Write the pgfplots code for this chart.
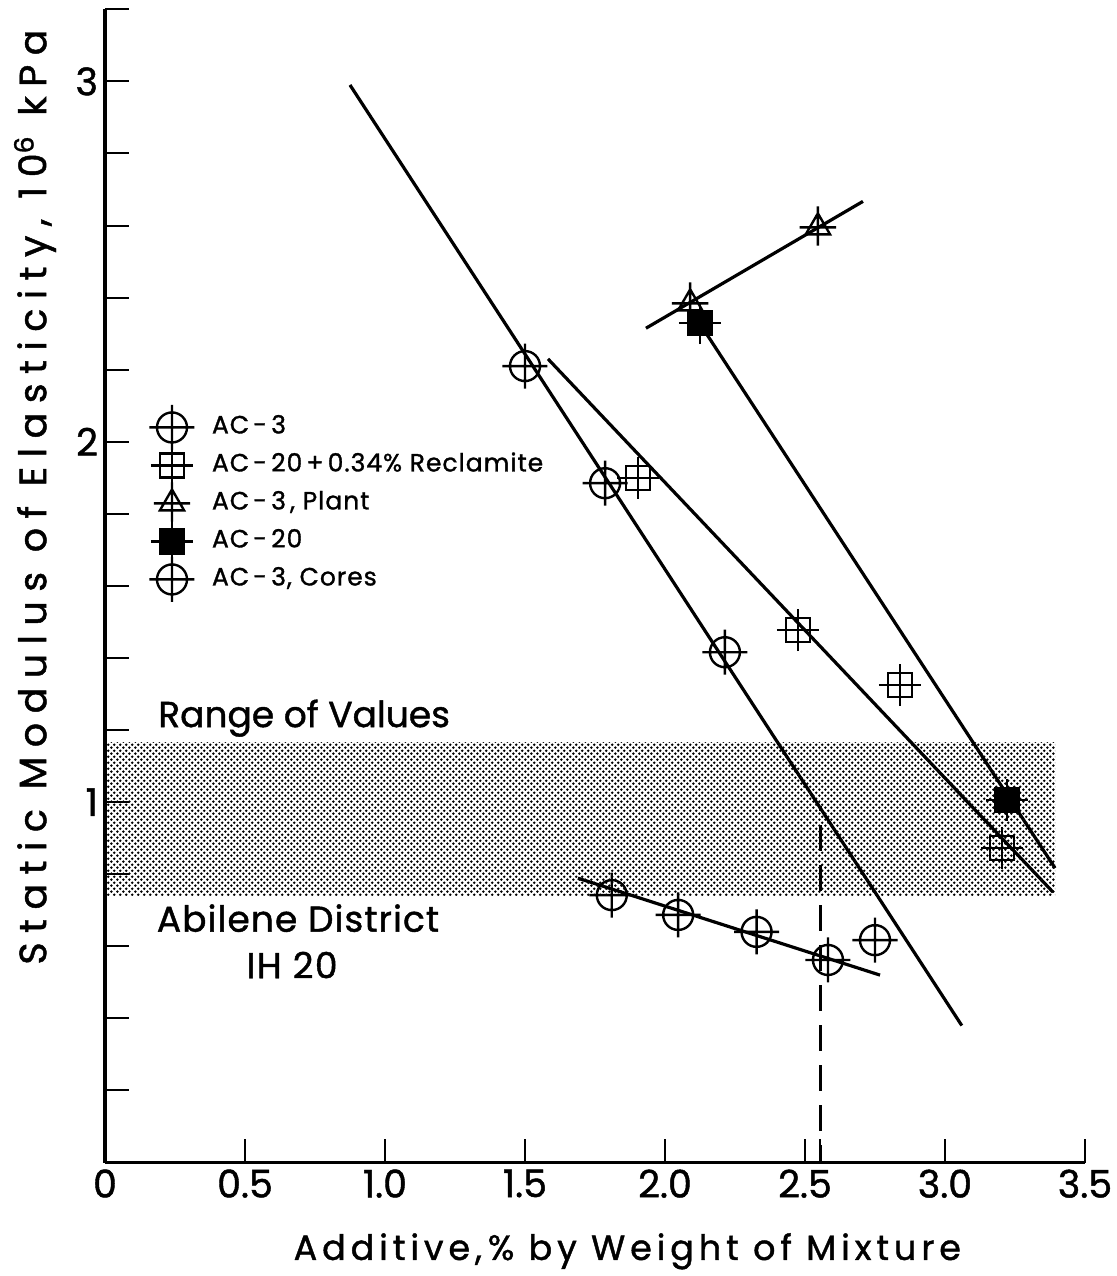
\documentclass[border=0pt]{standalone}
\usepackage{fontspec}
\setmainfont{Poppins}[FakeBold=1.2]
\usepackage{pgfplots}
\pgfplotsset{compat=1.18}
\usetikzlibrary{patterns}

\pgfdeclarepatternformonly{halftone}{\pgfpointorigin}{\pgfqpoint{2.9pt}{2.9pt}}{\pgfqpoint{2.9pt}{2.9pt}}{%
  \pgfpathcircle{\pgfqpoint{0.725pt}{0.725pt}}{0.72pt}%
  \pgfpathcircle{\pgfqpoint{2.175pt}{2.175pt}}{0.72pt}%
  \pgfusepath{fill}}

\pgfdeclareplotmark{ocross}{%
  \pgfpathcircle{\pgfpointorigin}{\pgfplotmarksize}%
  \pgfpathmoveto{\pgfqpoint{-1.5\pgfplotmarksize}{0pt}}\pgfpathlineto{\pgfqpoint{1.5\pgfplotmarksize}{0pt}}%
  \pgfpathmoveto{\pgfqpoint{0pt}{-1.5\pgfplotmarksize}}\pgfpathlineto{\pgfqpoint{0pt}{1.5\pgfplotmarksize}}%
  \pgfusepathqstroke}
\pgfdeclareplotmark{scross}{%
  \pgfpathrectangle{\pgfqpoint{-0.8\pgfplotmarksize}{-0.8\pgfplotmarksize}}{\pgfqpoint{1.6\pgfplotmarksize}{1.6\pgfplotmarksize}}%
  \pgfpathmoveto{\pgfqpoint{-1.4\pgfplotmarksize}{0pt}}\pgfpathlineto{\pgfqpoint{1.4\pgfplotmarksize}{0pt}}%
  \pgfpathmoveto{\pgfqpoint{0pt}{-1.4\pgfplotmarksize}}\pgfpathlineto{\pgfqpoint{0pt}{1.4\pgfplotmarksize}}%
  \pgfusepathqstroke}
\pgfdeclareplotmark{fscross}{%
  \pgfpathrectangle{\pgfqpoint{-0.8\pgfplotmarksize}{-0.8\pgfplotmarksize}}{\pgfqpoint{1.6\pgfplotmarksize}{1.6\pgfplotmarksize}}%
  \pgfusepathqfillstroke
  \pgfpathmoveto{\pgfqpoint{-1.4\pgfplotmarksize}{0pt}}\pgfpathlineto{\pgfqpoint{1.4\pgfplotmarksize}{0pt}}%
  \pgfpathmoveto{\pgfqpoint{0pt}{-1.4\pgfplotmarksize}}\pgfpathlineto{\pgfqpoint{0pt}{1.4\pgfplotmarksize}}%
  \pgfusepathqstroke}
\pgfdeclareplotmark{tcross}{%
  \pgfpathmoveto{\pgfqpoint{0pt}{\pgfplotmarksize}}%
  \pgfpathlineto{\pgfqpointpolar{210}{\pgfplotmarksize}}%
  \pgfpathlineto{\pgfqpointpolar{330}{\pgfplotmarksize}}%
  \pgfpathclose
  \pgfpathmoveto{\pgfqpoint{-1.3\pgfplotmarksize}{0pt}}\pgfpathlineto{\pgfqpoint{1.3\pgfplotmarksize}{0pt}}%
  \pgfpathmoveto{\pgfqpoint{0pt}{-1.3\pgfplotmarksize}}\pgfpathlineto{\pgfqpoint{0pt}{1.5\pgfplotmarksize}}%
  \pgfusepathqstroke}

\begin{document}
\begin{tikzpicture}
\begin{axis}[name=ax, scale only axis, width=490pt, height=576.6pt,
  xmin=0, xmax=3.5, ymin=0, ymax=3.2,
  axis x line*=bottom, axis y line*=left, axis on top,
  x axis line style={line width=1.4pt}, y axis line style={line width=2pt},
  xtick={0,0.5,1,1.5,2,2.5,3,3.5}, xticklabels={0,0.5,1.0,1.5,2.0,2.5,3.0,3.5},
  extra x ticks={2.555}, extra x tick labels={},
  ytick={1,2,3}, yticklabels={1,2,3},
  minor ytick={0.2,0.4,0.6,0.8,1.2,1.4,1.6,1.8,2.2,2.4,2.6,2.8,3.2},
  tick align=inside, major tick length=12pt, minor tick length=12pt,
  every tick/.style={line width=1pt, black},
  ticklabel style={font=\fontsize{19}{19}\selectfont},
  /pgf/number format/assume math mode=true,
  xlabel={Additive,\,\% by Weight of Mixture},
  ylabel={Static Modulus of Elasticity, 10\textsuperscript{6} kPa},
  xlabel style={font=\fontsize{17.5}{17.5}\selectfont\addfontfeature{LetterSpace=14},
    at={(axis description cs:0.533,-0.077)}, anchor=center},
  ylabel style={font=\fontsize{19}{19}\selectfont\addfontfeature{LetterSpace=25},
    at={(axis description cs:-0.0714,0.577)}, anchor=center},
  legend style={at={(axis cs:0.1607,2.073)}, anchor=north west, draw=none, fill=none,
    inner sep=0pt, outer sep=0pt,
    font=\fontsize{12.5}{12.5}\selectfont\addfontfeature{LetterSpace=4},
    row sep=7pt, nodes={inner sep=0pt, text height=9pt, text depth=3pt},
    /tikz/every odd column/.append style={column sep=9pt}},
  legend cell align=left,
  legend image code/.code={%
    \pgfpathrectangle{\pgfqpoint{-11pt}{-6pt}}{\pgfqpoint{22pt}{12pt}}\pgfusepath{use as bounding box}%
    \draw[#1] plot coordinates {(0pt,0pt)};},
]
% shaded range band
\addplot[draw=none, pattern=halftone, forget plot] coordinates {(0,0.742) (3.393,0.742) (3.393,1.166) (0,1.166)} -- cycle;

% fitted lines
\addplot[line width=1.6pt, forget plot] coordinates {(0.875,2.99) (3.06,0.38)};
\addplot[line width=1.6pt, forget plot] coordinates {(1.582,2.23) (3.386,0.75)};
\addplot[line width=1.6pt, forget plot] coordinates {(2.11,2.345) (3.393,0.817)};
\addplot[line width=1.6pt, forget plot] coordinates {(1.932,2.315) (2.707,2.667)};
\addplot[line width=1.6pt, forget plot] coordinates {(1.689,0.789) (2.768,0.52)};
\addplot[line width=1.3pt, dash pattern=on 13pt off 7pt, dash phase=4pt, forget plot] coordinates {(2.555,0) (2.555,0.99)};

% data points
\addplot[only marks, mark=ocross, mark size=7.5pt, mark options={line width=1.2pt, fill=none}] coordinates {(1.5,2.21) (1.786,1.885) (2.214,1.416)};
\addlegendentry{AC\,-\,3}
\addplot[only marks, mark=scross, mark size=7.5pt, mark options={line width=1.2pt, fill=none}] coordinates {(1.904,1.90) (2.475,1.477) (2.839,1.325) (3.204,0.872)};
\addlegendentry{AC\,-\,20\,+\,0.34\% Reclamite}
\addplot[only marks, mark=tcross, mark size=7pt, mark options={line width=1.2pt, fill=none}] coordinates {(2.09,2.384) (2.546,2.595)};
\addlegendentry{AC\,-\,3\,, Plant}
\addplot[only marks, mark=fscross, mark size=7.5pt, mark options={line width=1.2pt, fill=black}] coordinates {(2.125,2.329) (3.221,1.006)};
\addlegendentry{AC\,-\,20}
\addplot[only marks, mark=ocross, mark size=7.5pt, mark options={line width=1.2pt, fill=none}] coordinates {(1.81,0.742) (2.047,0.687) (2.327,0.64) (2.582,0.562) (2.75,0.617)};
\addlegendentry{AC\,-\,3, Cores}

\node[anchor=west, font=\fontsize{18}{18}\selectfont] at (axis cs:0.165,1.233) {Range of Values};
\node[anchor=west, font=\fontsize{18}{18}\selectfont\addfontfeature{LetterSpace=3}] at (axis cs:0.16,0.678) {Abilene District};
\node[anchor=center, font=\fontsize{18}{18}\selectfont\addfontfeature{LetterSpace=4}] at (axis cs:0.668,0.548) {IH 20};
\end{axis}
\pgfresetboundingbox
\path[use as bounding box] ([shift={(-52.5pt,-56.75pt)}]ax.south west) rectangle ++(558.5pt,638pt);
\end{tikzpicture}
\end{document}
